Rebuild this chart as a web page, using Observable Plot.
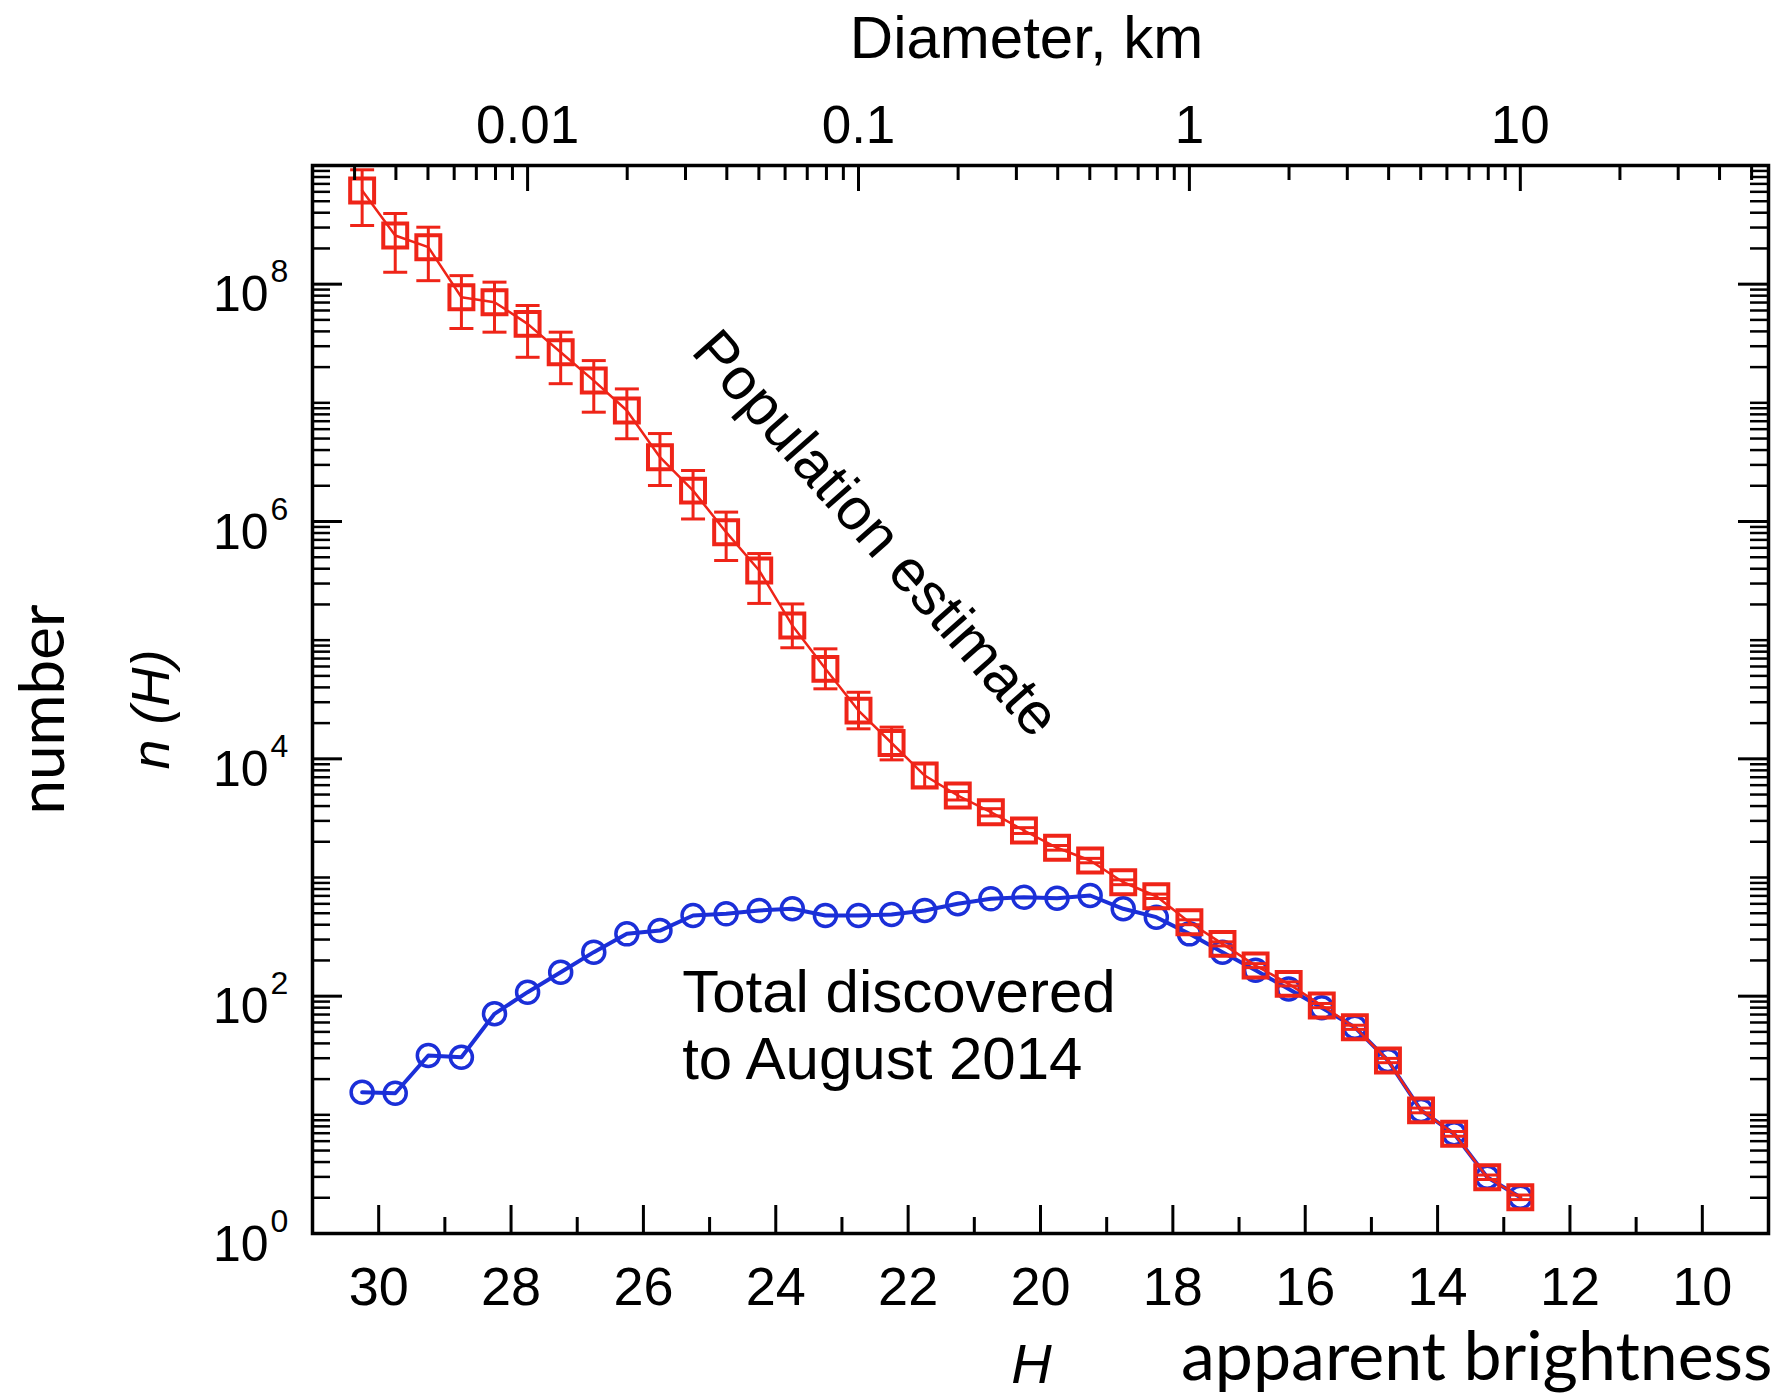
<!DOCTYPE html>
<html>
<head>
<meta charset="utf-8">
<script src="https://cdn.jsdelivr.net/npm/d3@7"></script>
<script src="https://cdn.jsdelivr.net/npm/@observablehq/plot@0.6"></script>
<style>
html, body { margin: 0; padding: 0; background: #fff; overflow: hidden; }
</style>
</head>
<body>
<div id="chart"></div>
<script>
// ---- data ----
const magnitudes = [30.25, 29.75, 29.25, 28.75, 28.25, 27.75, 27.25, 26.75, 26.25, 25.75, 25.25, 24.75,
  24.25, 23.75, 23.25, 22.75, 22.25, 21.75, 21.25, 20.75, 20.25, 19.75, 19.25, 18.75,
  18.25, 17.75, 17.25, 16.75, 16.25, 15.75, 15.25, 14.75, 14.25, 13.75, 13.25, 12.75];

const populationEstimate = [6.15e8, 2.57e8, 2.05e8, 7.76e7, 7.05e7, 4.63e7, 2.67e7, 1.54e7, 8.61e6, 3.48e6, 1.82e6, 8.13e5,
  3.86e5, 1.33e5, 5.73e4, 2.55e4, 1.36e4, 7230, 4910, 3550, 2490, 1780, 1390, 912,
  695, 420, 276, 181, 127, 83.4, 54.7, 28.7, 10.9, 6.92, 2.98, 2.02];

const populationLow = [3.12e8, 1.26e8, 1.07e8, 4.23e7, 3.94e7, 2.42e7, 1.45e7, 8.34e6, 4.98e6, 2.01e6, 1.05e6, 4.69e5,
  2.04e5, 8.63e4, 3.89e4, 1.79e4, 9800, 5770, 4500, 3300, 2350, 1700, 1330, 870,
  665, 400, 265, 174, 122, 80, 52.5, 27.5, 10.4, 6.6, 2.85, 1.93];

const populationHigh = [9.2e8, 3.94e8, 3.02e8, 1.18e8, 1.04e8, 6.61e7, 3.94e7, 2.27e7, 1.31e7, 5.51e6, 2.69e6, 1.2e6,
  5.37e5, 2.02e5, 8.45e4, 3.64e4, 1.85e4, 9140, 5300, 3800, 2630, 1860, 1450, 955,
  725, 440, 287, 188, 132, 86.8, 56.9, 29.9, 11.4, 7.24, 3.11, 2.11];

const totalDiscovered = [15.5, 15.2, 31.6, 30.6, 71, 108, 159, 235, 335, 357, 478, 494,
  527, 545, 478, 478, 488, 527, 600, 661, 682, 669, 705, 545,
  463, 335, 235, 165, 115, 80, 54.7, 28.7, 10.9, 6.92, 2.98, 2.02];

const hLabels = [30, 28, 26, 24, 22, 20, 18, 16, 14, 12, 10];
const hMinor = [29, 27, 25, 23, 21, 19, 17, 15, 13, 11];
const diameterLabels = [0.01, 0.1, 1, 10];
const diameterMinor = [0.003, 0.004, 0.005, 0.006, 0.007, 0.008, 0.009,
  0.02, 0.03, 0.04, 0.05, 0.06, 0.07, 0.08, 0.09,
  0.2, 0.3, 0.4, 0.5, 0.6, 0.7, 0.8, 0.9,
  2, 3, 4, 5, 6, 7, 8, 9, 20, 30, 40, 50];
const nLabels = [1, 1e2, 1e4, 1e6, 1e8];
const nOddDecades = [1e1, 1e3, 1e5, 1e7];

// diameter (km) -> absolute magnitude H (D = 1 km at H = 17.75)
const hOfDiameter = d => 17.75 - 5 * Math.log10(d);

// minor log ticks on the count axis
const nMinor = [];
for (let e = 0; e < 9; e++) for (let k = 2; k <= 9; k++) nMinor.push(k * Math.pow(10, e));

const population = magnitudes.map((h, i) => ({H: h, n: populationEstimate[i], lo: populationLow[i], hi: populationHigh[i]}));
const discovered = magnitudes.map((h, i) => ({H: h, n: totalDiscovered[i]}));

// ---- layout ----
const W = 1787, HT = 1397;
const mL = 312, mR = 19, mT = 165, mB = 164;
const FW = W - mL - mR, FH = HT - mT - mB;
const RED = "#ef2418", BLUE = "#1b2fd8";
const SANS = "'Liberation Sans', Arial, Helvetica, sans-serif";

const capSymbol = {draw(ctx, size) { const w = Math.sqrt(size / Math.PI); ctx.moveTo(-w, 0); ctx.lineTo(w, 0); }};

const chart = Plot.plot({
  width: W, height: HT,
  marginLeft: mL, marginRight: mR, marginTop: mT, marginBottom: mB,
  style: {fontFamily: SANS, background: "white", color: "black", overflow: "visible"},
  x: {domain: [31, 9], axis: null},
  y: {type: "log", domain: [1, 1e9], axis: null},
  marks: [
    // discovered
    Plot.line(discovered, {x: "H", y: "n", stroke: BLUE, strokeWidth: 4}),
    Plot.dot(discovered, {x: "H", y: "n", r: 11, stroke: BLUE, strokeWidth: 3.5, fill: "none"}),
    // population estimate
    Plot.line(population, {x: "H", y: "n", stroke: RED, strokeWidth: 2.5}),
    Plot.ruleX(population, {x: "H", y1: "lo", y2: "hi", stroke: RED, strokeWidth: 3}),
    Plot.dot(population, {x: "H", y: "lo", symbol: capSymbol, r: 12, stroke: RED, strokeWidth: 3, fill: "none"}),
    Plot.dot(population, {x: "H", y: "hi", symbol: capSymbol, r: 12, stroke: RED, strokeWidth: 3, fill: "none"}),
    Plot.dot(population, {x: "H", y: "n", symbol: "square", r: 13.5, stroke: RED, strokeWidth: 4, fill: "none"}),

    // inward ticks: bottom (H)
    Plot.tickX(hLabels, {x: d => d, insetTop: FH - 28, stroke: "black", strokeWidth: 3}),
    Plot.tickX(hMinor, {x: d => d, insetTop: FH - 16, stroke: "black", strokeWidth: 3}),
    // top (diameter)
    Plot.tickX(diameterLabels, {x: hOfDiameter, insetBottom: FH - 26, stroke: "black", strokeWidth: 3}),
    Plot.tickX(diameterMinor, {x: hOfDiameter, insetBottom: FH - 15, stroke: "black", strokeWidth: 3}),
    // left & right (n)
    Plot.tickY(nLabels, {y: d => d, insetRight: FW - 30, stroke: "black", strokeWidth: 3}),
    Plot.tickY(nOddDecades.concat(nMinor), {y: d => d, insetRight: FW - 18, stroke: "black", strokeWidth: 2.5}),
    Plot.tickY(nLabels, {y: d => d, insetLeft: FW - 30, stroke: "black", strokeWidth: 3}),
    Plot.tickY(nOddDecades.concat(nMinor), {y: d => d, insetLeft: FW - 18, stroke: "black", strokeWidth: 2.5}),
    Plot.frame({stroke: "black", strokeWidth: 3.5}),

    // tick labels
    Plot.text(hLabels, {x: d => d, frameAnchor: "bottom", text: d => String(d), lineAnchor: "bottom", dy: 71, fontSize: 54}),
    Plot.text(diameterLabels, {x: hOfDiameter, frameAnchor: "top", text: d => String(d), lineAnchor: "bottom", dy: -23, fontSize: 53}),
    Plot.text(nLabels, {y: d => d, frameAnchor: "left", text: () => "10", textAnchor: "end", dx: -44, dy: 11, fontSize: 50}),
    Plot.text(nLabels, {y: d => d, frameAnchor: "left", text: d => String(Math.round(Math.log10(d))), textAnchor: "start", dx: -42, dy: -12, fontSize: 32}),

    // axis titles
    Plot.text(["Diameter, km"], {frameAnchor: "top", textAnchor: "middle", dx: -14, dy: -108, lineAnchor: "bottom", fontSize: 60}),
    Plot.text(["H"], {frameAnchor: "bottom", textAnchor: "middle", dx: -9, dy: 149, lineAnchor: "bottom", fontSize: 56, fontStyle: "italic"}),
    Plot.text(["n (H)"], {frameAnchor: "left", textAnchor: "middle", rotate: -90, dx: -161, dy: 10, fontSize: 54, fontStyle: "italic"}),
    Plot.text(["apparent brightness"], {frameAnchor: "bottom-right", textAnchor: "end", dx: 4, dy: 146, lineAnchor: "bottom", fontSize: 68, fontFamily: "Lato"}),
    Plot.text(["number"], {frameAnchor: "left", textAnchor: "middle", rotate: -90, dx: -249, dy: 10, lineAnchor: "bottom", fontSize: 62, fontFamily: "Lato"}),

    // curve annotations
    Plot.text([{H: 22.49, n: 7.9e5, label: "Population estimate"}], {x: "H", y: "n", text: "label", rotate: 48.5, fontSize: 59}),
    Plot.text([{H: 25.415, n: 73.3, label: "Total discovered"}], {x: "H", y: "n", text: "label", textAnchor: "start", lineAnchor: "bottom", fontSize: 60}),
    Plot.text([{H: 25.415, n: 73.3, label: "to August 2014"}], {x: "H", y: "n", text: "label", textAnchor: "start", lineAnchor: "bottom", dy: 67, fontSize: 60})
  ]
});

document.getElementById("chart").appendChild(chart);
</script>
</body>
</html>
